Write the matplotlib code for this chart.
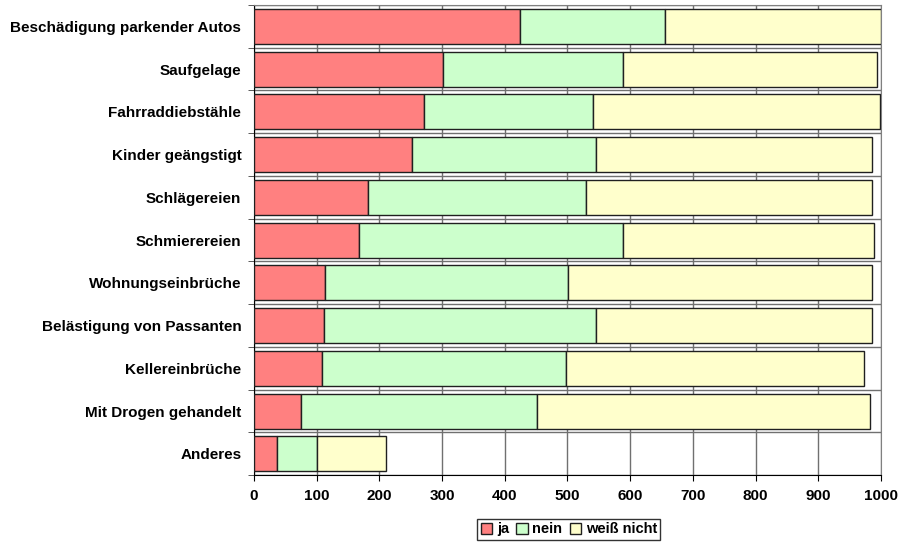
import numpy as np
import matplotlib.pyplot as plt
from matplotlib.ticker import MultipleLocator

plt.rcParams['font.family'] = ['Liberation Sans', 'DejaVu Sans']
plt.rcParams['font.weight'] = 'bold'

categories = ["Beschädigung parkender Autos", "Saufgelage", "Fahrraddiebstähle",
              "Kinder geängstigt", "Schlägereien", "Schmierereien",
              "Wohnungseinbrüche", "Belästigung von Passanten", "Kellereinbrüche",
              "Mit Drogen gehandelt", "Anderes"]
ja = [424, 302, 272, 252, 182, 167, 113, 112, 108, 76, 37]
nein = [231, 286, 269, 293, 348, 421, 388, 433, 390, 376, 63]
weiss_nicht = [345, 406, 458, 440, 456, 400, 484, 440, 475, 531, 111]
series_names = ["ja", "nein", "weiß nicht"]
colors = ["#FF8080", "#CCFFCC", "#FFFFCC"]

fig = plt.figure(figsize=(9.13, 5.45), dpi=100)
ax = fig.add_axes([0.278, 0.128, 0.687, 0.863])

y = np.arange(len(categories))
left = np.zeros(len(categories))
for vals, name, col in zip([ja, nein, weiss_nicht], series_names, colors):
    ax.barh(y, vals, left=left, height=0.82, color=col, edgecolor='#202020',
            linewidth=1, label=name, zorder=3)
    left += np.array(vals)

ax.set_xlim(0, 1000)
ax.set_ylim(len(categories) - 0.5, -0.5)
ax.xaxis.set_major_locator(MultipleLocator(100))
ax.set_yticks(y)
ax.set_yticklabels(categories)
ax.set_yticks(np.arange(-0.5, len(categories)), minor=True)
ax.tick_params(axis='y', which='major', length=0, pad=9, labelsize=11)
ax.tick_params(axis='y', which='minor', length=4, color='#404040')
ax.tick_params(axis='x', length=4, labelsize=11, pad=6)

ax.grid(axis='x', color='#707070', linewidth=1, zorder=0)
ax.grid(axis='y', which='minor', color='#707070', linewidth=1, zorder=0)
ax.set_axisbelow(True)

for s in ['top', 'right']:
    ax.spines[s].set_color('#808080')
for s in ['left', 'bottom']:
    ax.spines[s].set_color('black')

fig.legend(loc='center', bbox_to_anchor=(0.623, 0.029), ncol=3, frameon=True,
           fancybox=False, edgecolor='black', fontsize=10.5, handlelength=0.8,
           handleheight=0.8, handletextpad=0.3, columnspacing=0.5,
           borderpad=0.25, borderaxespad=0)

fig.savefig('out.png', dpi=100)
